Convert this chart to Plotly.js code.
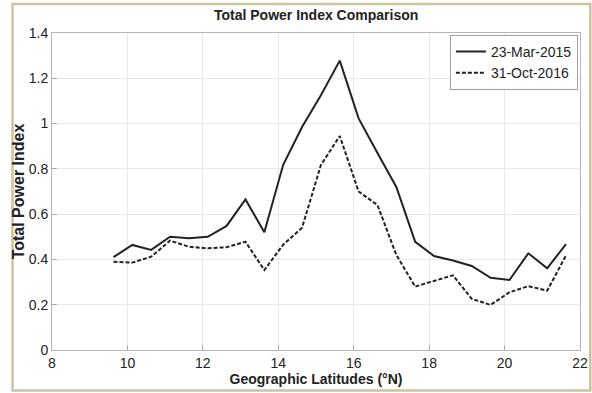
<!DOCTYPE html>
<html>
<head>
<meta charset="utf-8">
<script src="https://cdn.plot.ly/plotly-3.0.1.min.js"></script>
<style>
  html, body { margin: 0; padding: 0; background: #ffffff; }
  #chart { width: 592px; height: 393px; }
</style>
</head>
<body>
<div id="chart"></div>
<script>
// Latitudes (°N)
const latitudes = [9.63, 10.13, 10.63, 11.13, 11.63, 12.13, 12.63, 13.13, 13.63, 14.13,
                   14.63, 15.13, 15.63, 16.13, 16.63, 17.13, 17.63, 18.13, 18.63, 19.13,
                   19.63, 20.13, 20.63, 21.13, 21.63];
// Total Power Index, 23-Mar-2015
const tpiMar2015 = [0.41, 0.464, 0.442, 0.50, 0.494, 0.50, 0.548, 0.665, 0.52, 0.818,
                    0.985, 1.125, 1.278, 1.023, 0.87, 0.72, 0.478, 0.415, 0.395, 0.371,
                    0.319, 0.309, 0.427, 0.361, 0.468];
// Total Power Index, 31-Oct-2016
const tpiOct2016 = [0.39, 0.386, 0.412, 0.483, 0.456, 0.449, 0.454, 0.478, 0.353, 0.465,
                    0.54, 0.817, 0.945, 0.70, 0.64, 0.42, 0.28, 0.305, 0.33, 0.226,
                    0.199, 0.255, 0.282, 0.262, 0.418];
const seriesNames = ["23-Mar-2015", "31-Oct-2016"];
const xTicks = [8, 10, 12, 14, 16, 18, 20, 22];
const yTicks = [0, 0.2, 0.4, 0.6, 0.8, 1, 1.2, 1.4];
const yTickText = ["0", "0.2", "0.4", "0.6", "0.8", "1", "1.2", "1.4"];

const font = "Arial, 'Liberation Sans', sans-serif";

const traces = [
  {
    x: latitudes, y: tpiMar2015, name: seriesNames[0],
    type: "scatter", mode: "lines",
    line: { color: "#222222", width: 2 }
  },
  {
    x: latitudes, y: tpiOct2016, name: seriesNames[1],
    type: "scatter", mode: "lines",
    line: { color: "#222222", width: 2, dash: "4px,2px" }
  }
];

const layout = {
  width: 592, height: 393,
  margin: { l: 52, r: 12, t: 33, b: 43 },
  paper_bgcolor: "#ffffff",
  plot_bgcolor: "#ffffff",
  font: { family: font, size: 14, color: "#222222" },
  title: {
    text: "<b>Total Power Index Comparison</b>",
    font: { family: font, size: 14, color: "#222222" },
    x: 0.534, xanchor: "center", y: 0.962, yanchor: "middle"
  },
  xaxis: {
    range: [8, 22],
    tickvals: xTicks,
    ticktext: xTicks.map(String),
    ticks: "inside", ticklen: 5, tickcolor: "#aaaaaa",
    showline: true, linecolor: "#b5b5b5", linewidth: 1, mirror: true,
    showgrid: true, gridcolor: "#e8e8e8", gridwidth: 1,
    zeroline: false,
    tickfont: { family: font, size: 14, color: "#222222" },
    title: {
      text: "<b>Geographic Latitudes (°N)</b>",
      font: { family: font, size: 14, color: "#222222" },
      standoff: 2
    }
  },
  yaxis: {
    range: [0, 1.4],
    tickvals: yTicks,
    ticktext: yTickText,
    ticks: "inside", ticklen: 5, tickcolor: "#aaaaaa",
    showline: true, linecolor: "#b5b5b5", linewidth: 1, mirror: true,
    showgrid: true, gridcolor: "#e8e8e8", gridwidth: 1,
    zeroline: false,
    tickfont: { family: font, size: 14, color: "#222222" },
    title: {
      text: "<b>Total Power Index</b>",
      font: { family: font, size: 16, color: "#222222" },
      standoff: 0
    }
  },
  showlegend: true,
  legend: {
    x: 0.996, xanchor: "right",
    y: 0.994, yanchor: "top",
    bgcolor: "#ffffff",
    bordercolor: "#a0a0a0", borderwidth: 1,
    font: { family: font, size: 14, color: "#222222" },
    itemwidth: 30,
    tracegroupgap: 0
  },
  shapes: [
    {
      type: "rect", xref: "paper", yref: "paper",
      x0: -0.0748, x1: 1.0195, y0: -0.128, y1: 1.0915,
      line: { color: "#cbc3a0", width: 2.5 },
      fillcolor: "rgba(0,0,0,0)", layer: "below"
    }
  ]
};

Plotly.newPlot("chart", traces, layout, { staticPlot: true, displayModeBar: false });
</script>
</body>
</html>
